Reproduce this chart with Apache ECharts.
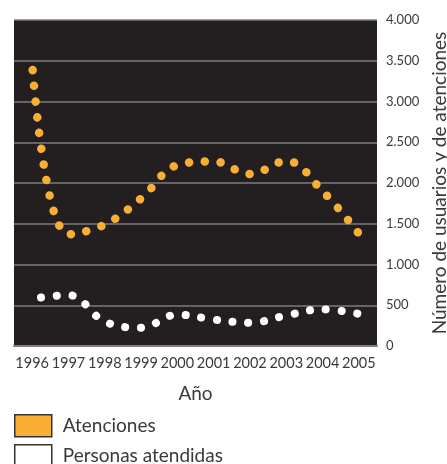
<!DOCTYPE html>
<html>
<head>
<meta charset="utf-8">
<script src="https://cdn.jsdelivr.net/npm/echarts@6/dist/echarts.min.js"></script>
<style>
html,body{margin:0;padding:0;background:#fff;}
#chart{width:447px;height:464px;}
</style>
</head>
<body>
<div id="chart"></div>
<script>
var years = ['1996','1997','1998','1999','2000','2001','2002','2003','2004','2005'];
var atenciones = [3460, 1370, 1490, 1810, 2220, 2265, 2110, 2270, 1900, 1380];
var personas = [580, 625, 300, 225, 385, 325, 285, 375, 450, 394];
var yTicks = [0, 500, 1000, 1500, 2000, 2500, 3000, 3500, 4000];

var FONT = 'Lato';
var TXT = '#3a3a3a';
var ORANGE = '#F9AE34';
var DOT_PERIOD = 15.8;
var DOT_LEN = 0.1;
var END_INSET = 2.0;

function fmt(v){ return String(v).replace(/\B(?=(\d{3})+(?!\d))/g, '.'); }

var legendBase = {
  orient: 'vertical', left: 14, itemWidth: 37, itemHeight: 22, padding: 0,
  icon: 'rect',
  textStyle: {fontFamily: FONT, fontSize: 19, color: TXT, padding: [0,0,0,6]}
};

var chart = echarts.init(document.getElementById('chart'));
chart.setOption({
  animation: false,
  backgroundColor: '#fff',
  textStyle: {fontFamily: FONT},
  grid: {left: 14, right: 70, top: 20, bottom: 118, show: true, backgroundColor: '#231f20', borderWidth: 0,
         containLabel: false, outerBoundsMode: 'none'},
  legend: [
    Object.assign({}, legendBase, {top: 414, data: [
      {name: 'Atenciones', itemStyle: {color: ORANGE, borderColor: '#333', borderWidth: 1.5}}
    ]}),
    Object.assign({}, legendBase, {top: 444, data: [
      {name: 'Personas atendidas', itemStyle: {color: '#fff', borderColor: '#333', borderWidth: 1.5}}
    ]})
  ],
  xAxis: {
    type: 'category', data: years, boundaryGap: true,
    name: 'Año', nameLocation: 'middle', nameGap: 38,
    nameTextStyle: {fontFamily: FONT, fontSize: 19, color: TXT},
    axisLine: {lineStyle: {color: '#7d7d7d', width: 2}},
    axisTick: {inside: true, length: 11, lineStyle: {color: '#8a8a8a', width: 1.5}},
    axisLabel: {fontFamily: FONT, fontSize: 14.5, color: TXT, margin: 10, interval: 0},
    splitLine: {show: false}
  },
  yAxis: {
    type: 'value', position: 'right', min: 0, max: 4000, interval: 500,
    name: 'Número de usuarios y de atenciones', nameLocation: 'middle', nameGap: 38,
    nameTextStyle: {fontFamily: FONT, fontSize: 19, color: TXT},
    axisLine: {show: false}, axisTick: {show: false},
    axisLabel: {fontFamily: FONT, fontSize: 13, color: TXT, margin: 9, formatter: function(v){ return fmt(v); }},
    splitLine: {lineStyle: {color: '#7d7d7d', width: 1.5}}
  },
  series: [
    {
      name: 'Atenciones', type: 'line', data: atenciones, smooth: 0.4, symbol: 'none',
      itemStyle: {color: ORANGE},
      lineStyle: {color: ORANGE, width: 8.5, type: [DOT_LEN, DOT_PERIOD - DOT_LEN], cap: 'round'}
    },
    {
      name: 'Personas atendidas', type: 'line', data: personas, smooth: 0.4, symbol: 'none',
      itemStyle: {color: '#fff'},
      lineStyle: {color: '#fff', width: 8, type: [DOT_LEN, DOT_PERIOD - DOT_LEN], cap: 'round'}
    }
  ]
});

// Measure a built zrender path (M/L/C commands) to anchor the dot pattern near the line's end.
function pathLength(p) {
  var d = p.data, n = p.len(), i = 0, x = 0, y = 0, L = 0;
  while (i < n) {
    var cmd = d[i++];
    if (cmd === 1) { x = d[i++]; y = d[i++]; }
    else if (cmd === 2) { var nx = d[i++], ny = d[i++]; L += Math.hypot(nx - x, ny - y); x = nx; y = ny; }
    else if (cmd === 3) {
      var x1 = d[i++], y1 = d[i++], x2 = d[i++], y2 = d[i++], x3 = d[i++], y3 = d[i++];
      var px = x, py = y;
      for (var k = 1; k <= 60; k++) {
        var t = k / 60, mt = 1 - t;
        var bx = mt*mt*mt*x + 3*mt*mt*t*x1 + 3*mt*t*t*x2 + t*t*t*x3;
        var by = mt*mt*mt*y + 3*mt*mt*t*y1 + 3*mt*t*t*y2 + t*t*t*y3;
        L += Math.hypot(bx - px, by - py); px = bx; py = by;
      }
      x = x3; y = y3;
    } else { break; }
  }
  return L;
}

try {
  var list = chart.getZr().storage.getDisplayList(true);
  var offsets = {};
  list.forEach(function (el) {
    if (el.type === 'ec-polyline' && el.style && el.style.lineDash) {
      if (!el.path) el.createPathProxy();
      el.path.reset();
      el.buildPath(el.path, el.shape, false);
      var L = pathLength(el.path);
      // the pattern phase at the line end is END_INSET, so the last dot sits just before the end point
      offsets[el.style.stroke] = ((END_INSET - (L % DOT_PERIOD)) % DOT_PERIOD + DOT_PERIOD) % DOT_PERIOD;
    }
  });
  chart.setOption({series: [
    {lineStyle: {dashOffset: offsets[ORANGE] || 0}},
    {lineStyle: {dashOffset: offsets['#fff'] || 0}}
  ]});
} catch (e) { console.log(e); }
</script>
</body>
</html>
